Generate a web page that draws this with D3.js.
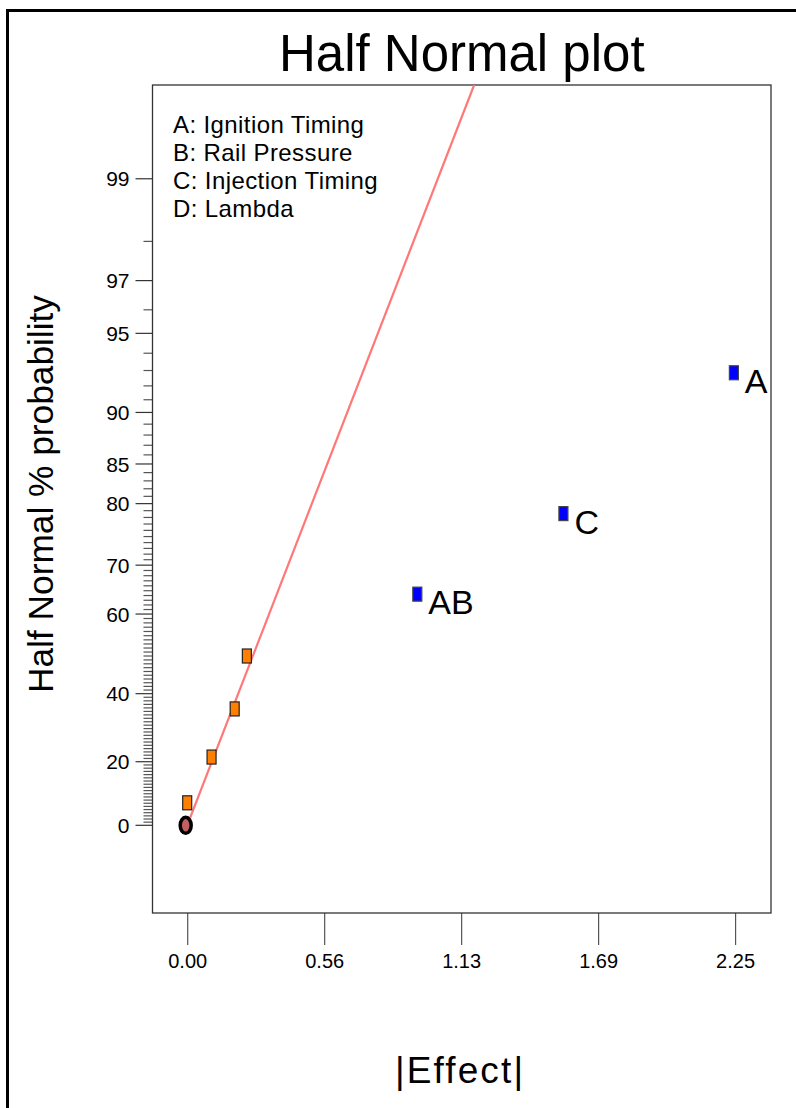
<!DOCTYPE html>
<html>
<head>
<meta charset="utf-8">
<script src="https://cdn.jsdelivr.net/npm/d3@7"></script>
<style>
  body { margin: 0; background: #fff; }
  text { font-family: Arial, "Liberation Sans", sans-serif; fill: #000; }
</style>
</head>
<body>
<div id="chart"></div>
<script>
// Data
var effects = [0.00, 0.10, 0.195, 0.245, 0.945, 1.545, 2.245];
var probs = [7.14, 21.43, 35.71, 50.0, 64.29, 78.57, 92.86];
var labels = ["", "", "", "", "AB", "C", "A"];
var significant = [false, false, false, false, true, true, true];
var errorPoint = [0.0, 0.0]; // |effect|, % probability
var fitSlope = 0.3995; // |effect| per half-normal score unit

var xTickValues = [0, 0.5625, 1.125, 1.6875, 2.25];
var xTickLabels = ["0.00", "0.56", "1.13", "1.69", "2.25"];
var yMajorTicks = [0, 20, 40, 60, 70, 80, 85, 90, 95, 97, 99];
var yMinorTicks = d3.range(1, 99).filter(function (p) { return yMajorTicks.indexOf(p) < 0; });

var factorNames = ["A: Ignition Timing", "B: Rail Pressure", "C: Injection Timing", "D: Lambda"];

// inverse normal cdf (Acklam)
function qnorm(p) {
  var a = [-39.69683028665376, 220.9460984245205, -275.9285104469687, 138.3577518672690, -30.66479806614716, 2.506628277459239];
  var b = [-54.47609879822406, 161.5858368580409, -155.6989798598866, 66.80131188771972, -13.28068155288572];
  var c = [-0.007784894002430293, -0.3223964580411365, -2.400758277161838, -2.549732539343734, 4.374664141464968, 2.938163982698783];
  var d = [0.007784695709041462, 0.3224671290700398, 2.445134137142996, 3.754408661907416];
  var plow = 0.02425, q, r;
  if (p < plow) {
    q = Math.sqrt(-2 * Math.log(p));
    return (((((c[0]*q+c[1])*q+c[2])*q+c[3])*q+c[4])*q+c[5]) / ((((d[0]*q+d[1])*q+d[2])*q+d[3])*q+1);
  }
  if (p > 1 - plow) {
    q = Math.sqrt(-2 * Math.log(1 - p));
    return -(((((c[0]*q+c[1])*q+c[2])*q+c[3])*q+c[4])*q+c[5]) / ((((d[0]*q+d[1])*q+d[2])*q+d[3])*q+1);
  }
  q = p - 0.5; r = q * q;
  return (((((a[0]*r+a[1])*r+a[2])*r+a[3])*r+a[4])*r+a[5])*q / (((((b[0]*r+b[1])*r+b[2])*r+b[3])*r+b[4])*r+1);
}
// half normal score for a percent
function hn(pct) { return pct <= 0 ? 0 : qnorm(0.5 + pct / 200); }

var W = 796, H = 1108;
var plot = { left: 152.5, top: 85, right: 771, bottom: 913 };

var svg = d3.select("#chart").append("svg")
  .attr("width", W)
  .attr("height", H);

// outer frame (only left and top are inside the picture)
svg.append("rect")
  .attr("x", 7.5).attr("y", 10.5)
  .attr("width", 900).attr("height", 1200)
  .attr("fill", "none")
  .attr("stroke", "#000")
  .attr("stroke-width", 3);

var x = d3.scaleLinear().domain([-0.1425, 2.3975]).range([plot.left, plot.right]);
var y = d3.scaleLinear().domain([-0.3494, 2.9494]).range([plot.bottom, plot.top]);

// title
svg.append("text")
  .attr("x", (plot.left + plot.right) / 2)
  .attr("y", 71)
  .attr("text-anchor", "middle")
  .style("font-size", "51px")
  .text("Half Normal plot");

// Y axis ticks
var yAxis = svg.append("g");
yAxis.selectAll(".minor").data(yMinorTicks).enter()
  .append("line")
  .attr("x1", plot.left - 9).attr("x2", plot.left)
  .attr("y1", function (d) { return y(hn(d)); })
  .attr("y2", function (d) { return y(hn(d)); })
  .attr("stroke", "#555").attr("stroke-width", 1.2);
yAxis.selectAll(".major").data(yMajorTicks).enter()
  .append("line")
  .attr("x1", plot.left - 17).attr("x2", plot.left)
  .attr("y1", function (d) { return y(hn(d)); })
  .attr("y2", function (d) { return y(hn(d)); })
  .attr("stroke", "#333").attr("stroke-width", 1.2);
yAxis.selectAll("text").data(yMajorTicks).enter()
  .append("text")
  .attr("x", plot.left - 23)
  .attr("y", function (d) { return y(hn(d)); })
  .attr("dy", "0.36em")
  .attr("text-anchor", "end")
  .style("font-size", "21px")
  .text(function (d) { return d; });

// X axis
var xAxis = svg.append("g")
  .attr("transform", "translate(0," + plot.bottom + ")")
  .call(d3.axisBottom(x)
    .tickValues(xTickValues)
    .tickFormat(function (d, i) { return xTickLabels[i]; })
    .tickSize(32)
    .tickPadding(9));
xAxis.select(".domain").remove();
xAxis.selectAll(".tick line").attr("stroke", "#555").attr("stroke-width", 1.2);
xAxis.selectAll(".tick text")
  .style("font-size", "20px")
  .style("font-family", "Arial, 'Liberation Sans', sans-serif")
  .attr("fill", "#000");

// plot frame
svg.append("rect")
  .attr("x", plot.left).attr("y", plot.top)
  .attr("width", plot.right - plot.left)
  .attr("height", plot.bottom - plot.top)
  .attr("fill", "none")
  .attr("stroke", "#333")
  .attr("stroke-width", 1.3);

// axis titles
svg.append("text")
  .attr("transform", "translate(53," + 494 + ") rotate(-90)")
  .attr("text-anchor", "middle")
  .style("font-size", "35px")
  .attr("textLength", 398)
  .attr("lengthAdjust", "spacingAndGlyphs")
  .text("Half Normal % probability");

svg.append("text")
  .attr("x", 459)
  .attr("y", 1083)
  .attr("text-anchor", "middle")
  .style("font-size", "37px")
  .attr("textLength", 128)
  .attr("lengthAdjust", "spacing")
  .text("|Effect|");

// legend of factor names
svg.append("g").selectAll("text").data(factorNames).enter()
  .append("text")
  .attr("x", 173)
  .attr("y", function (d, i) { return 133 + i * 28; })
  .style("font-size", "24px")
  .style("letter-spacing", "0.4px")
  .text(function (d) { return d; });

// clip to plot
svg.append("clipPath").attr("id", "clip")
  .append("rect")
  .attr("x", plot.left).attr("y", plot.top)
  .attr("width", plot.right - plot.left)
  .attr("height", plot.bottom - plot.top);

// fitted line through origin
var zTop = y.domain()[1];
svg.append("line")
  .attr("clip-path", "url(#clip)")
  .attr("x1", x(0)).attr("y1", y(0))
  .attr("x2", x(fitSlope * zTop)).attr("y2", y(zTop))
  .attr("stroke", "#f77").attr("stroke-width", 2.2);

// error estimate marker
svg.append("ellipse")
  .attr("cx", x(errorPoint[0]) - 1.5)
  .attr("cy", y(hn(errorPoint[1])))
  .attr("rx", 5.5).attr("ry", 8)
  .attr("fill", "#c06060")
  .attr("stroke", "#000")
  .attr("stroke-width", 3.5);

// effect markers
var pts = effects.map(function (e, i) {
  return { e: e, p: probs[i], label: labels[i], sig: significant[i] };
});
svg.append("g").selectAll("rect").data(pts).enter()
  .append("rect")
  .attr("x", function (d) { return x(d.e) - 4.5; })
  .attr("y", function (d) { return y(hn(d.p)) - 7; })
  .attr("width", 9).attr("height", 14)
  .attr("fill", function (d) { return d.sig ? "#0000ff" : "#ff8000"; })
  .attr("stroke", function (d) { return d.sig ? "#444" : "#222"; })
  .attr("stroke-width", 1.2);

svg.append("g").selectAll("text").data(pts.filter(function (d) { return d.label; })).enter()
  .append("text")
  .attr("x", function (d) { return x(d.e) + 11; })
  .attr("y", function (d) { return y(hn(d.p)) + 20; })
  .style("font-size", "34px")
  .text(function (d) { return d.label; });
</script>
</body>
</html>
